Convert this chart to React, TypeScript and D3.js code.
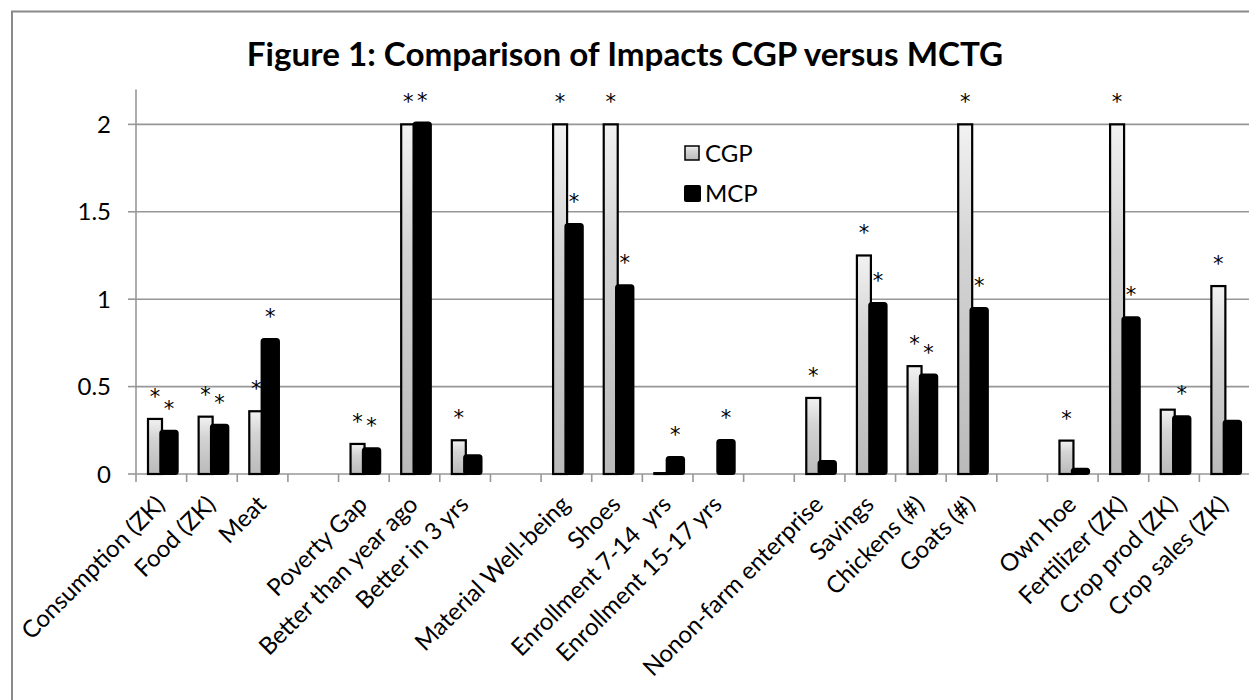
import React from "react";
import * as d3 from "d3";

const categories = [
  "Consumption (ZK)", "Food (ZK)", "Meat", "", "Poverty Gap", "Better than year ago",
  "Better in 3 yrs", "", "Material Well-being", "Shoes", "Enrollment 7-14  yrs",
  "Enrollment 15-17 yrs", "", "Nonon-farm enterprise", "Savings", "Chickens (#)",
  "Goats (#)", "", "Own hoe", "Fertilizer (ZK)", "Crop prod (ZK)", "Crop sales (ZK)",
];
const cgpValues: (number | null)[] = [
  0.315, 0.328, 0.359, null, 0.172, 2.0, 0.193, null, 2.0, 2.0, 0.005,
  null, null, 0.435, 1.25, 0.617, 2.0, null, 0.191, 2.0, 0.368, 1.075,
];
const mcpValues: (number | null)[] = [
  0.248, 0.282, 0.772, null, 0.147, 2.01, 0.107, null, 1.43, 1.08, 0.097,
  0.195, null, 0.075, 0.978, 0.569, 0.95, null, 0.03, 0.897, 0.33, 0.305,
];
const cgpStars = [1, 1, 1, 0, 1, 1, 1, 0, 1, 1, 0, 0, 0, 1, 1, 1, 1, 0, 1, 1, 0, 1];
const mcpStars = [1, 1, 1, 0, 1, 1, 0, 0, 1, 1, 1, 1, 0, 0, 1, 1, 1, 0, 0, 1, 1, 0];
const yTicks = [0, 0.5, 1, 1.5, 2];
const yTickLabels = ["0", "0.5", "1", "1.5", "2"];
const seriesNames = ["CGP", "MCP"];
const title = "Figure 1: Comparison of Impacts CGP versus MCTG";

const W = 1249;
const H = 700;
const FONT = "Lato, 'Open Sans', sans-serif";
const STAR_FONT = "'DejaVu Sans', sans-serif";
const GRID = "#979797";

export default function App() {
  const x = d3.scaleBand<number>().domain(d3.range(categories.length)).range([136, 1250]).padding(0);
  const y = d3.scaleLinear().domain([0, 2.2]).range([474, 89.4]);
  const bw = x.bandwidth();
  const y0 = y(0);
  const cgpOff = 12, cgpW = 14, mcpOff = 24.3, mcpW = 17.4;

  return (
    <svg width={W} height={H} style={{ position: "absolute", left: 0, top: 0, background: "#fff" }}>
      <defs>
        <linearGradient id="cgpGrad" x1="0" y1="0" x2="0" y2="1">
          <stop offset="0%" stopColor="#f2f2f2" />
          <stop offset="35%" stopColor="#d4d4d4" />
          <stop offset="100%" stopColor="#bababa" />
        </linearGradient>
      </defs>
      <rect x={0} y={0} width={W} height={H} fill="#fff" />
      <rect x={12} y={11.5} width={W + 20} height={H + 20} fill="none" stroke="#8a8a8a" strokeWidth={2} />
      <text x={625} y={66} textAnchor="middle" fontFamily={FONT} fontWeight="bold" fontSize={33.2} fill="#000">
        {title}
      </text>

      {yTicks.filter((t) => t > 0).map((t) => (
        <line key={"g" + t} x1={136} x2={1250} y1={y(t)} y2={y(t)} stroke={GRID} strokeWidth={1.6} />
      ))}
      <line x1={136} x2={136} y1={y(2.2)} y2={y0} stroke={GRID} strokeWidth={1.6} />
      {yTicks.map((t, i) => (
        <g key={"yt" + t}>
          <line x1={128} x2={136} y1={y(t)} y2={y(t)} stroke={GRID} strokeWidth={1.6} />
          <text x={111} y={y(t)} dy="0.36em" textAnchor="end" fontFamily={FONT} fontSize={24} fill="#000">
            {yTickLabels[i]}
          </text>
        </g>
      ))}
      <line x1={136} x2={1250} y1={y0} y2={y0} stroke={GRID} strokeWidth={1.6} />
      {categories.map((_, i) => (
        <line key={"xt" + i} x1={x(i)!} x2={x(i)!} y1={y0} y2={y0 + 8} stroke={GRID} strokeWidth={1.6} />
      ))}

      {cgpValues.map((v, i) =>
        v == null ? null : (
          <rect key={"c" + i} x={x(i)! + cgpOff} y={y(v)} width={cgpW} height={Math.max(0.5, y0 - y(v))}
            fill="url(#cgpGrad)" stroke="#000" strokeWidth={2.2} />
        )
      )}
      {mcpValues.map((v, i) =>
        v == null ? null : (
          <rect key={"m" + i} x={x(i)! + mcpOff} y={y(v)} width={mcpW} height={y0 - y(v)}
            rx={2.5} fill="#000" stroke="#000" strokeWidth={2} />
        )
      )}

      <g transform="rotate(0.0001)" opacity={0.999}>
        {cgpValues.map((v, i) =>
          v == null || !cgpStars[i] ? null : (
            <text key={"cs" + i} x={x(i)! + cgpOff + cgpW / 2} y={y(v) - 15} textAnchor="middle"
              fontFamily={STAR_FONT} fontSize={21} fill="#000">*</text>
          )
        )}
        {mcpValues.map((v, i) =>
          v == null || !mcpStars[i] ? null : (
            <text key={"ms" + i} x={x(i)! + mcpOff + mcpW / 2} y={y(v) - 15} textAnchor="middle"
              fontFamily={STAR_FONT} fontSize={21} fill="#000">*</text>
          )
        )}
      </g>

      {categories.map((c, i) =>
        c === "" ? null : (
          <text key={"cl" + i} transform={`translate(${x(i)! + bw / 2 + 5},${506}) rotate(-45)`}
            textAnchor="end" fontFamily={FONT} fontSize={24} fill="#000" style={{ whiteSpace: "pre" }}>
            {c}
          </text>
        )
      )}

      <rect x={685} y={146} width={14} height={14} fill="url(#cgpGrad)" stroke="#000" strokeWidth={1.5} />
      <text x={705} y={162} fontFamily={FONT} fontSize={24} fill="#000">{seriesNames[0]}</text>
      <rect x={684} y={185} width={17} height={17} rx={2} fill="#000" />
      <text x={705} y={202} fontFamily={FONT} fontSize={24} fill="#000">{seriesNames[1]}</text>
    </svg>
  );
}
